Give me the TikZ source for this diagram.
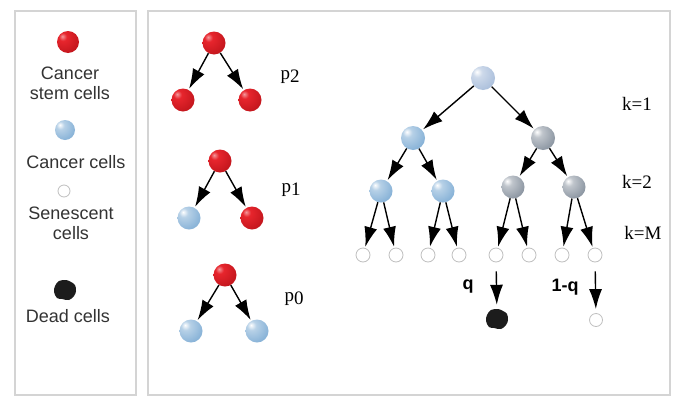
\documentclass[tikz,border=0pt]{standalone}
\usepackage{fontspec}
\setmainfont{Liberation Serif}
\newfontfamily\arialfont{Liberation Sans}
\usetikzlibrary{arrows.meta,calc}
\definecolor{frame}{RGB}{212,212,212}
\definecolor{cscred}{RGB}{230,26,34}
\definecolor{ccblue}{RGB}{135,178,215}
\definecolor{rootblue}{RGB}{172,192,220}
\definecolor{ccgray}{RGB}{140,150,162}
\definecolor{deadfill}{RGB}{28,28,28}
% soft spherical shadings for the cells
\pgfdeclareradialshading{cellred}{\pgfpoint{-13bp}{13bp}}{%
  color(0bp)=(white!55!cscred); color(9bp)=(cscred!95!white);
  color(35bp)=(cscred!85!black); color(58bp)=(cscred!45!black);
  color(100bp)=(cscred!45!black)}
\pgfdeclareradialshading{cellblue}{\pgfpoint{-13bp}{13bp}}{%
  color(0bp)=(white); color(10bp)=(ccblue!60!white);
  color(35bp)=(ccblue); color(60bp)=(ccblue!55!black);
  color(100bp)=(ccblue!55!black)}
\pgfdeclareradialshading{cellroot}{\pgfpoint{-13bp}{13bp}}{%
  color(0bp)=(white); color(10bp)=(rootblue!60!white);
  color(35bp)=(rootblue); color(60bp)=(rootblue!55!black);
  color(100bp)=(rootblue!55!black)}
\pgfdeclareradialshading{cellgray}{\pgfpoint{-13bp}{13bp}}{%
  color(0bp)=(white); color(10bp)=(ccgray!55!white);
  color(35bp)=(ccgray); color(60bp)=(ccgray!50!black);
  color(100bp)=(ccgray!50!black)}
\tikzset{
  cellball/.style={circle, inner sep=0pt, minimum size=23pt},
  csc/.style={cellball, shading=cellred},
  cc/.style={cellball, shading=cellblue},
  ccroot/.style={cellball, shading=cellroot},
  ccg/.style={cellball, shading=cellgray},
  sen/.style={circle, inner sep=0pt, minimum size=14pt, draw=black!25, fill=white, line width=0.8pt},
  deadspot/.style={circle, inner sep=0pt, minimum size=22pt},
  arr/.style={line width=1.4pt, shorten >=1pt, arrows={-Latex[length=20pt, width=13pt]}},
  legendtxt/.style={font=\arialfont\fontsize{18}{20}\selectfont, align=center, text=black!80},
  problab/.style={font=\fontsize{19}{20}\selectfont},
  klab/.style={font=\fontsize{19}{20}\selectfont},
  qlab/.style={font=\arialfont\bfseries\fontsize{18}{20}\selectfont},
  panel/.style={draw=frame, line width=1.5pt}
}
\newcommand{\deadblob}[1]{%
  \fill[deadfill] plot[smooth cycle, tension=0.6] coordinates {
    ($(#1)+(11,1)$) ($(#1)+(9,6)$) ($(#1)+(4,10)$) ($(#1)+(-3,9)$) ($(#1)+(-8,8)$)
    ($(#1)+(-11,2)$) ($(#1)+(-10,-4)$) ($(#1)+(-6,-9)$) ($(#1)+(1,-10)$)
    ($(#1)+(6,-8)$) ($(#1)+(10,-5)$)};}
\begin{document}
\begin{tikzpicture}[x=1pt, y=-1pt]
\useasboundingbox (0,0) rectangle (676,399);
\fill[white] (0,0) rectangle (676,399);

% panels
\draw[panel] (15,11) rectangle (136,395);
\draw[panel] (148,11) rectangle (670,395);

% legend
\node[csc, minimum size=22pt] (lcsc) at (68,42) {};
\node[legendtxt] (tcsc) at (70,83) {Cancer\\stem cells};
\node[cc, minimum size=20pt] (lcc) at (65,130) {};
\node[legendtxt] (tcc) at (76,162) {Cancer cells};
\node[sen, minimum size=12pt] (lsen) at (64,191) {};
\node[legendtxt] (tsen) at (71,223) {Senescent\\cells};
\node[deadspot] (ldead) at (65,290) {};
\deadblob{ldead}
\node[legendtxt] (tdead) at (68,316) {Dead cells};

% symmetric self-renewal, probability p2
\node[csc] (a0) at (214,43) {};
\node[csc] (a1) at (183,100) {};
\node[csc] (a2) at (250,100) {};
\draw[arr] (a0) -- (a1);
\draw[arr] (a0) -- (a2);
\node[problab] (p2) at (290,77) {p\raisebox{-0.3ex}{2}};

% asymmetric division, probability p1
\node[csc] (b0) at (220,161) {};
\node[cc] (b1) at (189,218) {};
\node[csc] (b2) at (252,218) {};
\draw[arr] (b0) -- (b1);
\draw[arr] (b0) -- (b2);
\node[problab] (p1) at (291,190) {p\raisebox{-0.3ex}{1}};

% symmetric differentiation, probability p0
\node[csc] (c0) at (225,275) {};
\node[cc] (c1) at (191,331) {};
\node[cc] (c2) at (257,331) {};
\draw[arr] (c0) -- (c1);
\draw[arr] (c0) -- (c2);
\node[problab] (p0) at (294,299) {p\raisebox{-0.3ex}{0}};

% division tree of cancer cells
\node[ccroot, minimum size=24pt] (r) at (483,78) {};
\node[cc, minimum size=24pt] (l1) at (413,138) {};
\node[ccg, minimum size=24pt] (r1) at (543,138) {};
\node[cc] (l11) at (381,191) {};
\node[cc] (l12) at (443,191) {};
\node[ccg] (r11) at (513,187) {};
\node[ccg] (r12) at (574,187) {};
\draw[arr] (r) -- (l1);
\draw[arr] (r) -- (r1);
\draw[arr] (l1) -- (l11);
\draw[arr] (l1) -- (l12);
\draw[arr] (r1) -- (r11);
\draw[arr] (r1) -- (r12);

% senescent cells after M divisions
\node[sen] (s1) at (363,255) {};
\node[sen] (s2) at (396,255) {};
\node[sen] (s3) at (428,255) {};
\node[sen] (s4) at (459,255) {};
\node[sen] (s5) at (496,255) {};
\node[sen] (s6) at (529,255) {};
\node[sen] (s7) at (562,255) {};
\node[sen] (s8) at (595,255) {};
\draw[arr] (l11) -- (s1);
\draw[arr] (l11) -- (s2);
\draw[arr] (l12) -- (s3);
\draw[arr] (l12) -- (s4);
\draw[arr] (r11) -- (s5);
\draw[arr] (r11) -- (s6);
\draw[arr] (r12) -- (s7);
\draw[arr] (r12) -- (s8);

% fate of senescent cells
\node[deadspot] (dead) at (497,319) {};
\deadblob{dead}
\node[sen, minimum size=13pt] (senf) at (596,320) {};
\draw[arr, shorten <=9pt, shorten >=3pt] (s5) -- (dead);
\draw[arr, shorten <=9pt, shorten >=4pt] (s8) -- (senf);
\node[qlab] (q) at (468,287) {q};
\node[qlab] (q1) at (565,287) {1-q};

% generation labels
\node[klab] (k1) at (637,104) {k=1};
\node[klab] (k2) at (637,182) {k=2};
\node[klab] (kM) at (643,233) {k=M};
\end{tikzpicture}
\end{document}
